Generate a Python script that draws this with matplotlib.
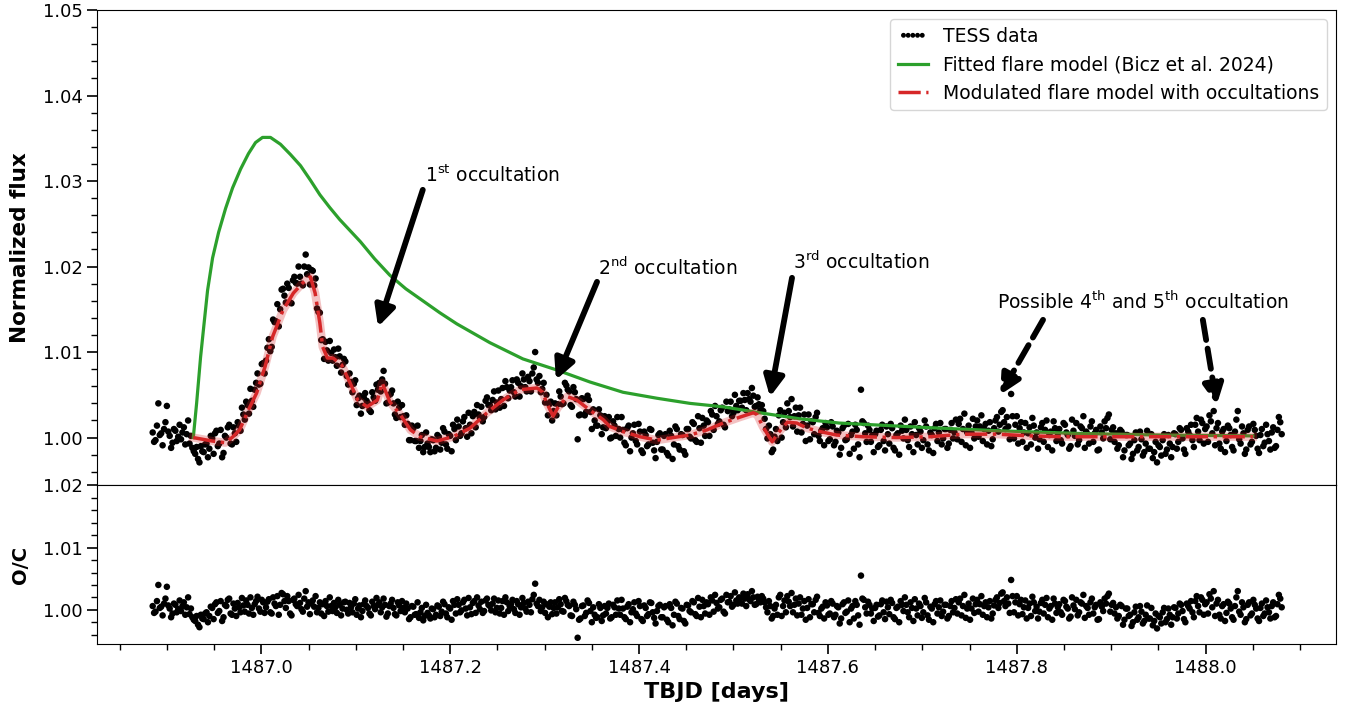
import matplotlib
matplotlib.use("Agg")
import matplotlib.pyplot as plt
import numpy as np

# TESS cadence times (TBJD), first half of the cadences
time_a = [
    1486.885, 1486.888, 1486.891, 1486.894, 1486.897, 1486.900, 1486.903, 1486.906, 1486.909, 1486.912,
    1486.915, 1486.918, 1486.921, 1486.924, 1486.927, 1486.930, 1486.933, 1486.936, 1486.939, 1486.942,
    1486.945, 1486.948, 1486.951, 1486.954, 1486.957, 1486.960, 1486.963, 1486.966, 1486.969, 1486.972,
    1486.975, 1486.978, 1486.981, 1486.984, 1486.987, 1486.990, 1486.993, 1486.996, 1486.999, 1487.002,
    1487.005, 1487.008, 1487.011, 1487.014, 1487.017, 1487.020, 1487.023, 1487.026, 1487.029, 1487.032,
    1487.035, 1487.038, 1487.041, 1487.044, 1487.047, 1487.050, 1487.053, 1487.056, 1487.059, 1487.062,
    1487.065, 1487.068, 1487.071, 1487.074, 1487.077, 1487.080, 1487.083, 1487.086, 1487.089, 1487.092,
    1487.095, 1487.098, 1487.101, 1487.104, 1487.107, 1487.110, 1487.113, 1487.116, 1487.119, 1487.122,
    1487.125, 1487.128, 1487.131, 1487.134, 1487.137, 1487.140, 1487.143, 1487.146, 1487.149, 1487.152,
    1487.155, 1487.158, 1487.161, 1487.164, 1487.167, 1487.170, 1487.173, 1487.176, 1487.179, 1487.182,
    1487.185, 1487.188, 1487.191, 1487.194, 1487.197, 1487.200, 1487.203, 1487.206, 1487.209, 1487.212,
    1487.215, 1487.218, 1487.221, 1487.224, 1487.227, 1487.230, 1487.233, 1487.236, 1487.239, 1487.242,
    1487.245, 1487.248, 1487.251, 1487.254, 1487.257, 1487.260, 1487.263, 1487.266, 1487.269, 1487.272,
    1487.275, 1487.278, 1487.281, 1487.284, 1487.287, 1487.290, 1487.293, 1487.296, 1487.299, 1487.302,
    1487.305, 1487.308, 1487.311, 1487.314, 1487.317, 1487.320, 1487.323, 1487.326, 1487.329, 1487.332,
    1487.335, 1487.338, 1487.341, 1487.344, 1487.347, 1487.350, 1487.353, 1487.356, 1487.359, 1487.362,
    1487.365, 1487.368, 1487.371, 1487.374, 1487.377, 1487.380, 1487.383, 1487.386, 1487.389, 1487.392,
    1487.395, 1487.398, 1487.401, 1487.404, 1487.407, 1487.410, 1487.413, 1487.416, 1487.419, 1487.422,
    1487.425, 1487.428, 1487.431, 1487.434, 1487.437, 1487.440, 1487.443, 1487.446, 1487.449, 1487.452,
    1487.455, 1487.458, 1487.461, 1487.464, 1487.467, 1487.470, 1487.473, 1487.476, 1487.479, 1487.482,
    1487.485, 1487.488, 1487.491, 1487.494, 1487.497, 1487.500, 1487.503, 1487.506, 1487.509, 1487.512,
    1487.515, 1487.518, 1487.521, 1487.524, 1487.527, 1487.530, 1487.533, 1487.536, 1487.539, 1487.542,
    1487.545, 1487.548, 1487.551, 1487.554, 1487.557, 1487.560, 1487.563, 1487.566, 1487.569, 1487.572,
    1487.575, 1487.578, 1487.581, 1487.584, 1487.587, 1487.590, 1487.593, 1487.596, 1487.599, 1487.602,
    1487.605, 1487.608, 1487.611, 1487.614, 1487.617, 1487.620, 1487.623, 1487.626, 1487.629, 1487.632,
    1487.635, 1487.638, 1487.641, 1487.644, 1487.647, 1487.650, 1487.653, 1487.656, 1487.659, 1487.662,
    1487.665, 1487.668, 1487.671, 1487.674, 1487.677, 1487.680, 1487.683, 1487.686, 1487.689, 1487.692,
    1487.695, 1487.698, 1487.701, 1487.704, 1487.707, 1487.710, 1487.713, 1487.716, 1487.719, 1487.722,
    1487.725, 1487.728, 1487.731, 1487.734, 1487.737, 1487.740, 1487.743, 1487.746, 1487.749, 1487.752,
    1487.755, 1487.758, 1487.761, 1487.764, 1487.767, 1487.770, 1487.773, 1487.776, 1487.779, 1487.782,
    1487.785, 1487.788, 1487.791, 1487.794, 1487.797, 1487.800, 1487.803, 1487.806, 1487.809, 1487.812,
    1487.815, 1487.818, 1487.821, 1487.824, 1487.827, 1487.830, 1487.833, 1487.836, 1487.839, 1487.842,
    1487.845, 1487.848, 1487.851, 1487.854, 1487.857, 1487.860, 1487.863, 1487.866, 1487.869, 1487.872,
    1487.875, 1487.878, 1487.881, 1487.884, 1487.887, 1487.890, 1487.893, 1487.896, 1487.899, 1487.902,
    1487.905, 1487.908, 1487.911, 1487.914, 1487.917, 1487.920, 1487.923, 1487.926, 1487.929, 1487.932,
    1487.935, 1487.938, 1487.941, 1487.944, 1487.947, 1487.950, 1487.953, 1487.956, 1487.959, 1487.962,
    1487.965, 1487.968, 1487.971, 1487.974, 1487.977, 1487.980, 1487.983, 1487.986, 1487.989, 1487.992,
    1487.995, 1487.998, 1488.001, 1488.004, 1488.007, 1488.010, 1488.013, 1488.016, 1488.019, 1488.022,
    1488.025, 1488.028, 1488.031, 1488.034, 1488.037, 1488.040, 1488.043, 1488.046, 1488.049, 1488.052,
    1488.055, 1488.058, 1488.061, 1488.064, 1488.067, 1488.070, 1488.073, 1488.076, 1488.079,
]

# normalized flux minus 1, in units of 1e-4
flux_a_e4 = [
    6, -3, 40, 5, 10, 37, 2, -6, 8, 1, -2, 12, 4, -7, -12, -19, -25, -10, -17, -7,
    -13, -1, 5, -10, 9, -18, 0, 15, -8, 5, 18, 8, 27, 42, 28, 43, 56, 75, 63, 87,
    90, 115, 106, 135, 156, 150, 174, 158, 175, 157, 188, 180, 188, 178, 214, 199, 196, 178, 151, 146,
    115, 112, 90, 99, 103, 84, 95, 85, 89, 62, 65, 63, 38, 49, 37, 52, 40, 30, 47, 62,
    64, 68, 63, 41, 51, 40, 23, 35, 38, 15, 16, -3, 11, -4, -12, 3, -11, -7, -17, -3,
    -12, 1, -6, 7, -13, 2, 15, -3, 13, 5, 24, 1, 15, 25, 12, 27, 36, 24, 47, 38,
    44, 33, 55, 45, 37, 59, 55, 67, 48, 64, 60, 68, 54, 66, 75, 100, 64, 53, 64, 50,
    39, 20, 40, 39, 48, 40, 61, 54, 36, 53, -2, 27, 45, 30, 44, 10, 20, 14, 26, 12,
    11, 24, 0, 14, 24, 0, 9, -9, 14, 0, 15, -8, 7, -18, 3, -8, 9, -15, -5, 5,
    -14, 4, -21, 2, -8, 10, -14, 3, -20, 10, -1, 16, -5, 11, 23, 2, 18, 31, 9, 25,
    19, 35, 12, 31, 42, 29, 37, 43, 35, 44, 52, 42, 49, 37, 39, 38, 22, -1, 4, -14,
    10, 26, 0, 29, 40, 24, 13, 35, 26, 6, 27, 14, -2, 18, 24, 2, 8, -9, 12, -2,
    13, -5, 6, -12, 14, -2, -19, 7, 15, -8, 56, 17, -5, 9, 3, 4, -11, 9, -4, 13,
    -7, 11, -15, 5, 14, -1, 9, -11, 4, 18, -8, 7, -3, 13, -15, 3, 11, -4, 17, -1,
    10, -7, 17, 6, -2, 22, 10, -9, 14, 6, -1, 20, 13, -4, 16, 8, -10, 11, 24, 15,
    32, 10, 13, 51, -1, 25, 11, -5, 17, 5, -8, 14, 6, -2, 17, 9, -11, 7, 19, -4,
    10, -7, 15, 3, -10, 8, 17, -3, 11, -12, 4, 13, -5, 9, -14, 6, 19, 23, -2, 12,
    5, -9, 7, -15, 3, -7, -19, 6, -11, -2, -17, 8, -13, -24, -5, -9, -21, 4, -14, -7,
    -11, 4, -5, 9, -14, 11, 3, -3, 15, 7, 21, -7, 13, 26, 5, -9, 17, -13, 10, -4,
    11, -11, 7, 31, -7, 5, -14, 13, -5, 9, -13, 3, -10, 15, -4, 6, -12, 9, 18,
]

# O/C residuals minus 1, in units of 1e-4
resid_a_e4 = [
    6, -3, 40, 5, 10, 37, 2, -6, 8, 1, -2, 12, 4, -7, -12, -18, -24, -8, -15, -4,
    -10, 3, 9, -5, 14, -12, 6, 18, -8, 2, 11, -4, 7, 15, -6, 3, 9, 21, -3, 12,
    4, 17, -6, 10, 22, 8, 25, 3, 14, -9, 18, 6, 11, -3, 30, 12, 10, 5, -4, 12,
    9, 14, -3, 6, 11, -5, 8, 2, 13, -6, 4, 10, -8, 7, -2, 15, 3, -9, 6, 19,
    12, 4, 8, -6, 10, 3, -9, 7, 14, -4, 2, -12, 5, -7, -13, 3, -10, -5, -14, 1,
    -8, 5, -3, 9, -12, 2, 14, -6, 8, -1, 16, -9, 4, 11, -5, 7, 13, -2, 18, 6,
    10, -4, 15, 3, -8, 12, 6, 16, -5, 9, 4, 11, -3, 8, 17, 42, 6, -2, 13, 9,
    5, -7, 12, 4, 9, -3, 14, 6, -10, 8, -45, -14, 7, -5, 11, -20, -8, -12, 3, -9,
    -6, 10, -12, 4, 15, -8, 2, -15, 9, -4, 12, -10, 6, -18, 3, -7, 11, -13, -2, 8,
    -12, 6, -20, 3, -8, 10, -15, 2, -22, 7, -4, 12, -10, 5, 16, -6, 9, 20, -3, 11,
    4, 18, -6, 12, 22, 8, 15, 20, 10, 18, 25, 14, 20, 9, 16, 22, 12, -4, 6, -10,
    8, 20, -10, 15, 22, 6, -4, 18, 10, -8, 14, 3, -12, 9, 16, -5, 2, -14, 7, -6,
    10, -8, 4, -14, 12, -3, -20, 6, 14, -9, 55, 16, -6, 8, 2, 3, -11, 9, -4, 13,
    -7, 11, -15, 5, 14, -2, 8, -12, 3, 17, -9, 6, -4, 12, -16, 2, 9, -6, 15, -3,
    8, -10, 14, 3, -6, 18, 6, -13, 10, 2, -5, 16, 9, -8, 12, 4, -14, 7, 20, 11,
    28, 6, 10, 48, -4, 22, 9, -7, 15, 3, -10, 12, 5, -3, 16, 8, -12, 6, 18, -5,
    9, -8, 14, 2, -11, 7, 16, -4, 10, -13, 3, 12, -6, 8, -15, 5, 18, 22, -3, 11,
    4, -10, 6, -16, 2, -8, -20, 5, -12, -3, -18, 7, -14, -25, -6, -10, -22, 3, -15, -8,
    -12, 3, -6, 8, -15, 10, 2, -4, 14, 6, 20, -8, 12, 25, 4, -10, 16, -14, 9, -5,
    10, -12, 6, 30, -8, 4, -15, 12, -6, 8, -14, 3, -10, 15, -4, 6, -12, 9, 18,
]

# second half of the cadences (in between the first half)
time_b = [
    1486.8865, 1486.8895, 1486.8925, 1486.8955, 1486.8985, 1486.9015, 1486.9045, 1486.9075, 1486.9105, 1486.9135,
    1486.9165, 1486.9195, 1486.9225, 1486.9255, 1486.9285, 1486.9315, 1486.9345, 1486.9375, 1486.9405, 1486.9435,
    1486.9465, 1486.9495, 1486.9525, 1486.9555, 1486.9585, 1486.9615, 1486.9645, 1486.9675, 1486.9705, 1486.9735,
    1486.9765, 1486.9795, 1486.9825, 1486.9855, 1486.9885, 1486.9915, 1486.9945, 1486.9975, 1487.0005, 1487.0035,
    1487.0065, 1487.0095, 1487.0125, 1487.0155, 1487.0185, 1487.0215, 1487.0245, 1487.0275, 1487.0305, 1487.0335,
    1487.0365, 1487.0395, 1487.0425, 1487.0455, 1487.0485, 1487.0515, 1487.0545, 1487.0575, 1487.0605, 1487.0635,
    1487.0665, 1487.0695, 1487.0725, 1487.0755, 1487.0785, 1487.0815, 1487.0845, 1487.0875, 1487.0905, 1487.0935,
    1487.0965, 1487.0995, 1487.1025, 1487.1055, 1487.1085, 1487.1115, 1487.1145, 1487.1175, 1487.1205, 1487.1235,
    1487.1265, 1487.1295, 1487.1325, 1487.1355, 1487.1385, 1487.1415, 1487.1445, 1487.1475, 1487.1505, 1487.1535,
    1487.1565, 1487.1595, 1487.1625, 1487.1655, 1487.1685, 1487.1715, 1487.1745, 1487.1775, 1487.1805, 1487.1835,
    1487.1865, 1487.1895, 1487.1925, 1487.1955, 1487.1985, 1487.2015, 1487.2045, 1487.2075, 1487.2105, 1487.2135,
    1487.2165, 1487.2195, 1487.2225, 1487.2255, 1487.2285, 1487.2315, 1487.2345, 1487.2375, 1487.2405, 1487.2435,
    1487.2465, 1487.2495, 1487.2525, 1487.2555, 1487.2585, 1487.2615, 1487.2645, 1487.2675, 1487.2705, 1487.2735,
    1487.2765, 1487.2795, 1487.2825, 1487.2855, 1487.2885, 1487.2915, 1487.2945, 1487.2975, 1487.3005, 1487.3035,
    1487.3065, 1487.3095, 1487.3125, 1487.3155, 1487.3185, 1487.3215, 1487.3245, 1487.3275, 1487.3305, 1487.3335,
    1487.3365, 1487.3395, 1487.3425, 1487.3455, 1487.3485, 1487.3515, 1487.3545, 1487.3575, 1487.3605, 1487.3635,
    1487.3665, 1487.3695, 1487.3725, 1487.3755, 1487.3785, 1487.3815, 1487.3845, 1487.3875, 1487.3905, 1487.3935,
    1487.3965, 1487.3995, 1487.4025, 1487.4055, 1487.4085, 1487.4115, 1487.4145, 1487.4175, 1487.4205, 1487.4235,
    1487.4265, 1487.4295, 1487.4325, 1487.4355, 1487.4385, 1487.4415, 1487.4445, 1487.4475, 1487.4505, 1487.4535,
    1487.4565, 1487.4595, 1487.4625, 1487.4655, 1487.4685, 1487.4715, 1487.4745, 1487.4775, 1487.4805, 1487.4835,
    1487.4865, 1487.4895, 1487.4925, 1487.4955, 1487.4985, 1487.5015, 1487.5045, 1487.5075, 1487.5105, 1487.5135,
    1487.5165, 1487.5195, 1487.5225, 1487.5255, 1487.5285, 1487.5315, 1487.5345, 1487.5375, 1487.5405, 1487.5435,
    1487.5465, 1487.5495, 1487.5525, 1487.5555, 1487.5585, 1487.5615, 1487.5645, 1487.5675, 1487.5705, 1487.5735,
    1487.5765, 1487.5795, 1487.5825, 1487.5855, 1487.5885, 1487.5915, 1487.5945, 1487.5975, 1487.6005, 1487.6035,
    1487.6065, 1487.6095, 1487.6125, 1487.6155, 1487.6185, 1487.6215, 1487.6245, 1487.6275, 1487.6305, 1487.6335,
    1487.6365, 1487.6395, 1487.6425, 1487.6455, 1487.6485, 1487.6515, 1487.6545, 1487.6575, 1487.6605, 1487.6635,
    1487.6665, 1487.6695, 1487.6725, 1487.6755, 1487.6785, 1487.6815, 1487.6845, 1487.6875, 1487.6905, 1487.6935,
    1487.6965, 1487.6995, 1487.7025, 1487.7055, 1487.7085, 1487.7115, 1487.7145, 1487.7175, 1487.7205, 1487.7235,
    1487.7265, 1487.7295, 1487.7325, 1487.7355, 1487.7385, 1487.7415, 1487.7445, 1487.7475, 1487.7505, 1487.7535,
    1487.7565, 1487.7595, 1487.7625, 1487.7655, 1487.7685, 1487.7715, 1487.7745, 1487.7775, 1487.7805, 1487.7835,
    1487.7865, 1487.7895, 1487.7925, 1487.7955, 1487.7985, 1487.8015, 1487.8045, 1487.8075, 1487.8105, 1487.8135,
    1487.8165, 1487.8195, 1487.8225, 1487.8255, 1487.8285, 1487.8315, 1487.8345, 1487.8375, 1487.8405, 1487.8435,
    1487.8465, 1487.8495, 1487.8525, 1487.8555, 1487.8585, 1487.8615, 1487.8645, 1487.8675, 1487.8705, 1487.8735,
    1487.8765, 1487.8795, 1487.8825, 1487.8855, 1487.8885, 1487.8915, 1487.8945, 1487.8975, 1487.9005, 1487.9035,
    1487.9065, 1487.9095, 1487.9125, 1487.9155, 1487.9185, 1487.9215, 1487.9245, 1487.9275, 1487.9305, 1487.9335,
    1487.9365, 1487.9395, 1487.9425, 1487.9455, 1487.9485, 1487.9515, 1487.9545, 1487.9575, 1487.9605, 1487.9635,
    1487.9665, 1487.9695, 1487.9725, 1487.9755, 1487.9785, 1487.9815, 1487.9845, 1487.9875, 1487.9905, 1487.9935,
    1487.9965, 1487.9995, 1488.0025, 1488.0055, 1488.0085, 1488.0115, 1488.0145, 1488.0175, 1488.0205, 1488.0235,
    1488.0265, 1488.0295, 1488.0325, 1488.0355, 1488.0385, 1488.0415, 1488.0445, 1488.0475, 1488.0505, 1488.0535,
    1488.0565, 1488.0595, 1488.0625, 1488.0655, 1488.0685, 1488.0715, 1488.0745, 1488.0775, 1488.0805,
]

flux_b_e4 = [
    -5, 14, 3, -9, 18, 7, -12, 10, -4, 15, 6, -8, 20, 2, -16, -11, -29, -16, -8, -23,
    2, -19, 8, -7, -23, 2, 12, -7, 12, -5, 14, 35, 21, 38, 57, 36, 64, 62, 86, 75,
    105, 101, 138, 136, 130, 173, 166, 180, 158, 184, 181, 200, 180, 200, 191, 179, 195, 186, 147, 114,
    92, 102, 113, 90, 94, 104, 76, 92, 72, 75, 53, 67, 46, 28, 47, 43, 32, 53, 43, 56,
    54, 78, 40, 50, 55, 27, 42, 24, 25, 26, -3, 14, -4, 14, -4, -17, 6, -11, -2, -16,
    3, -14, 11, -8, 4, -16, 10, 21, 2, 19, 11, 29, 5, 30, 38, 23, 19, 43, 38, 32,
    54, 41, 35, 58, 66, 46, 59, 53, 68, 48, 75, 59, 71, 54, 82, 68, 72, 57, 41, 26,
    42, 31, 26, 54, 39, 64, 56, 38, 59, 45, 26, 46, 26, 49, 30, 33, 14, 33, 4, 25,
    19, -1, 19, 2, 10, 24, -6, 11, -16, 5, -4, 16, -15, 7, -10, 10, -6, -24, 3, -14,
    2, -18, 8, -25, 13, -10, 4, -16, 10, 1, 18, -3, 25, -6, 14, 20, 2, 27, 37, 16,
    32, 15, 42, 33, 25, 50, 32, 43, 52, 32, 45, 58, 36, 47, 32, 31, 10, 14, -17, 1,
    -4, 32, 18, 12, 31, 45, 25, 7, 35, 16, -4, 27, 19, 4, 29, -4, 11, 17, -4, 18,
    -9, 8, -20, 11, -3, 16, 3, -13, 9, -23, 19, 5, 14, -5, -17, 8, -9, 15, -15, 4,
    16, -12, 3, -20, 8, 21, -3, 13, -17, 3, 11, -12, 20, -8, 6, -18, 16, 6, -8, 10,
    -12, 9, -1, 21, 16, -5, 28, 6, -12, 22, 13, 1, 26, 10, -8, 18, -2, 20, 7, 30,
    18, 24, -2, 25, 15, -7, 18, 6, -12, 12, 23, 0, -13, 12, -5, 20, 3, -15, 11, 5,
    -3, 17, 6, -13, 21, 2, -8, 13, 25, 7, -7, 19, 5, -15, 13, -1, 11, 27, 9, -5,
    -13, 9, -23, 3, -9, -25, -3, -15, 7, -21, -7, -13, 4, -17, -29, -11, -3, -19, 3, -23,
    5, -13, 11, -1, -19, 7, 15, -11, 23, -3, 17, 10, -5, 19, 31, 11, -7, 7, -17, 14,
    3, -15, 21, -2, 13, -19, 9, -8, 16, 2, -18, 10, -6, 4, -14, 12, -10, 24, 4,
]

resid_b_e4 = [
    -5, 14, 3, -9, 18, 7, -12, 10, -4, 15, 6, -8, 20, 2, -16, -10, -28, -14, -6, -20,
    5, -15, 12, -2, -18, 8, 16, -6, 10, -10, 4, 19, -3, 8, 20, -8, 14, 2, 16, -5,
    13, -4, 20, 6, -8, 27, 14, 22, -6, 16, 9, 24, 1, 18, 5, -7, 15, 22, 3, -6,
    -10, 6, 20, -2, 4, 16, -9, 12, 0, 11, -4, 17, 2, -12, 9, 6, -6, 13, 1, 8,
    -4, 18, -11, 6, 16, -7, 12, -2, 3, 10, -15, 6, -8, 12, -4, -17, 8, -9, 2, -12,
    7, -10, 13, -6, 4, -16, 8, 17, -4, 12, 2, 19, -7, 14, 20, 1, -5, 15, 8, -1,
    18, 3, -6, 14, 20, -2, 9, 1, 14, -8, 19, 2, 13, -4, 24, 10, 16, 4, -5, -12,
    12, 3, -6, 17, -2, 19, 8, -9, 13, 1, -16, 6, -10, 15, -2, 4, -13, 9, -18, 6,
    3, -14, 8, -8, 2, 16, -12, 5, -20, 1, -6, 14, -15, 7, -10, 12, -4, -22, 6, -12,
    4, -16, 9, -25, 13, -10, 3, -18, 8, -2, 14, -7, 19, -12, 6, 12, -8, 15, 24, 2,
    16, -3, 24, 13, 5, 28, 10, 19, 26, 6, 17, 30, 8, 21, 12, 18, 4, 14, -14, 2,
    -8, 24, 6, -4, 13, 27, 8, -9, 20, 2, -16, 17, 9, -4, 21, -10, 5, 12, -8, 14,
    -12, 6, -22, 9, -5, 15, 2, -14, 8, -24, 18, 4, 13, -6, -18, 8, -9, 15, -15, 4,
    16, -12, 3, -20, 8, 20, -4, 12, -18, 2, 10, -13, 19, -9, 5, -20, 14, 4, -10, 8,
    -14, 6, -4, 17, 12, -9, 24, 2, -16, 18, 9, -3, 22, 6, -12, 14, -6, 16, 3, 26,
    14, 20, -5, 22, 12, -9, 16, 4, -14, 10, 21, -2, -14, 11, -6, 19, 2, -16, 10, 4,
    -4, 16, 5, -14, 20, 1, -9, 12, 24, 6, -8, 18, 4, -16, 12, -2, 10, 26, 8, -6,
    -14, 8, -24, 2, -10, -26, -4, -16, 6, -22, -8, -14, 3, -18, -30, -12, -4, -20, 2, -24,
    4, -14, 10, -2, -20, 6, 14, -12, 22, -4, 16, 9, -6, 18, 30, 10, -8, 6, -18, 13,
    2, -16, 20, -3, 12, -20, 8, -9, 16, 2, -18, 10, -6, 4, -14, 12, -10, 24, 4,
]

# fitted flare model (Bicz et al. 2024), flux minus 1 in 1e-4
flare_t = [
    1486.928, 1486.9315, 1486.9357, 1486.9389, 1486.9431, 1486.9484, 1486.9548, 1486.9622, 1486.9696, 1486.9781,
    1486.9864, 1486.9939, 1487.0013, 1487.0097, 1487.0203, 1487.0309, 1487.0415, 1487.052, 1487.062, 1487.0725,
    1487.083, 1487.094, 1487.105, 1487.120, 1487.136, 1487.153, 1487.171, 1487.189, 1487.207, 1487.242,
    1487.277, 1487.313, 1487.348, 1487.383, 1487.419, 1487.454, 1487.489, 1487.528, 1487.570, 1487.612,
    1487.700, 1487.780, 1487.860, 1487.950, 1488.050,
]
flare_e4 = [
    0, 40, 94, 128, 172, 210, 240, 268, 292, 314,
    332, 345, 351, 351, 343, 331, 318, 301, 284, 269,
    255, 242, 229, 209, 190, 174, 160, 146, 133, 111,
    92, 79, 65, 53, 46, 40, 36, 29, 22, 17,
    12, 8, 5, 3, 2,
]

# modulated flare model with occultations, flux minus 1 in 1e-4
mod_t = [
    1486.928, 1486.948, 1486.962, 1486.970, 1486.977, 1486.988, 1486.995, 1487.004, 1487.012, 1487.023,
    1487.034, 1487.044, 1487.052, 1487.057, 1487.062, 1487.065, 1487.070, 1487.076, 1487.085, 1487.094,
    1487.102, 1487.112, 1487.123, 1487.128, 1487.136, 1487.147, 1487.158, 1487.168, 1487.186, 1487.203,
    1487.221, 1487.239, 1487.256, 1487.274, 1487.292, 1487.298, 1487.302, 1487.309, 1487.314, 1487.324,
    1487.334, 1487.348, 1487.362, 1487.369, 1487.383, 1487.401, 1487.419, 1487.436, 1487.454, 1487.472,
    1487.489, 1487.507, 1487.521, 1487.525, 1487.531, 1487.541, 1487.547, 1487.557, 1487.567, 1487.578,
    1487.592, 1487.609, 1487.637, 1487.673, 1487.708, 1487.743, 1487.779, 1487.814, 1487.849, 1487.900,
    1487.950, 1488.000, 1488.050,
]
mod_e4 = [
    0, -4, -6, 1, 9, 36, 52, 83, 118, 149,
    169, 181, 188, 169, 134, 106, 93, 93, 85, 64,
    44, 36, 44, 64, 42, 27, 9, 1, -4, 1,
    11, 29, 44, 56, 58, 53, 41, 25, 35, 48,
    44, 32, 21, 13, 7, 1, -3, 0, 3, 9,
    17, 24, 29, 27, 13, -5, 5, 18, 17, 11,
    7, 3, 1, 0, 1, 4, 4, 2, 1, 1,
    1, 1, 1,
]

assert len(time_a) == len(flux_a_e4) == len(resid_a_e4)
assert len(time_b) == len(flux_b_e4) == len(resid_b_e4)
assert len(flare_t) == len(flare_e4) and len(mod_t) == len(mod_e4)

t = np.array(time_a + time_b)
flux = 1 + np.array(flux_a_e4 + flux_b_e4) * 1e-4
resid = 1 + np.array(resid_a_e4 + resid_b_e4) * 1e-4
flare = 1 + np.array(flare_e4) * 1e-4
model = 1 + np.array(mod_e4) * 1e-4

fig, (ax1, ax2) = plt.subplots(2, 1, figsize=(13.45, 7.13), dpi=100, sharex=True,
                               gridspec_kw={"height_ratios": [3, 1]})
fig.subplots_adjust(left=0.0721, right=0.9933, top=0.986, bottom=0.0968, hspace=0)

ax1.scatter(t, flux, s=22, c="k", edgecolors="none", zorder=2, label="TESS data")
ax1.plot(flare_t, flare, color="tab:green", lw=2.3, zorder=3,
         label="Fitted flare model (Bicz et al. 2024)")
ax1.plot(mod_t, model, color="tab:red", lw=6, alpha=0.28, zorder=3)
ax1.plot(mod_t, model, color="tab:red", lw=2.5, ls="-.", zorder=4,
         label="Modulated flare model with occultations")

ax2.scatter(t, resid, s=22, c="k", edgecolors="none")

# occultation annotations
arrows = [
    ((1487.1236, 1.01295), (1487.171, 1.02897), "-"),
    ((1487.312, 1.00675), (1487.3555, 1.01821), "-"),
    ((1487.5387, 1.00476), (1487.562, 1.01868), "-"),
    ((1487.7823, 1.0050), (1487.8278, 1.01377), (0, (3.5, 1.5))),
    ((1488.0118, 1.00383), (1487.997, 1.01377), (0, (3.5, 1.5))),
]
for tip, tail, ls in arrows:
    ax1.annotate("", xy=tip, xytext=tail,
                 arrowprops=dict(arrowstyle="-|>", color="k", lw=4.2, ls=ls,
                                 mutation_scale=30, shrinkA=0, shrinkB=0))

txt = dict(fontsize=13.5, ha="left", va="center")
ax1.text(1487.1738, 1.0307, r"1$^{\mathrm{st}}$ occultation", **txt)
ax1.text(1487.3566, 1.01985, r"2$^{\mathrm{nd}}$ occultation", **txt)
ax1.text(1487.563, 1.02055, r"3$^{\mathrm{rd}}$ occultation", **txt)
ax1.text(1487.779, 1.01587, r"Possible 4$^{\mathrm{th}}$ and 5$^{\mathrm{th}}$ occultation", **txt)

ax1.set_xlim(1486.826, 1488.138)
ax1.set_ylim(0.9944, 1.05)
ax2.set_ylim(0.9945, 1.02)

ax1.set_yticks([1.00, 1.01, 1.02, 1.03, 1.04, 1.05])
ax1.set_yticks(np.arange(0.996, 1.05, 0.002), minor=True)
ax2.set_yticks([1.00, 1.01, 1.02])
ax2.set_yticks(np.arange(0.996, 1.0201, 0.002), minor=True)
ax2.set_xticks([1487.0, 1487.2, 1487.4, 1487.6, 1487.8, 1488.0])
ax2.set_xticks(np.arange(1486.85, 1488.13, 0.05), minor=True)

for ax in (ax1, ax2):
    ax.tick_params(which="major", length=7, width=1.2, labelsize=13)
    ax.tick_params(which="minor", length=4, width=1)
ax1.tick_params(axis="x", which="both", bottom=False, labelbottom=False)

ax1.set_ylabel("Normalized flux", fontsize=15.5, fontweight="bold", labelpad=9)
ax2.set_ylabel("O/C", fontsize=14, fontweight="bold", labelpad=9)
ax2.set_xlabel("TBJD [days]", fontsize=16, fontweight="bold")
fig.align_ylabels([ax1, ax2])

ax1.legend(loc="upper right", fontsize=13.5, scatterpoints=5, scatteryoffsets=[0.5],
           markerscale=0.75, handlelength=1.6)

fig.savefig("out.png", dpi=100)
